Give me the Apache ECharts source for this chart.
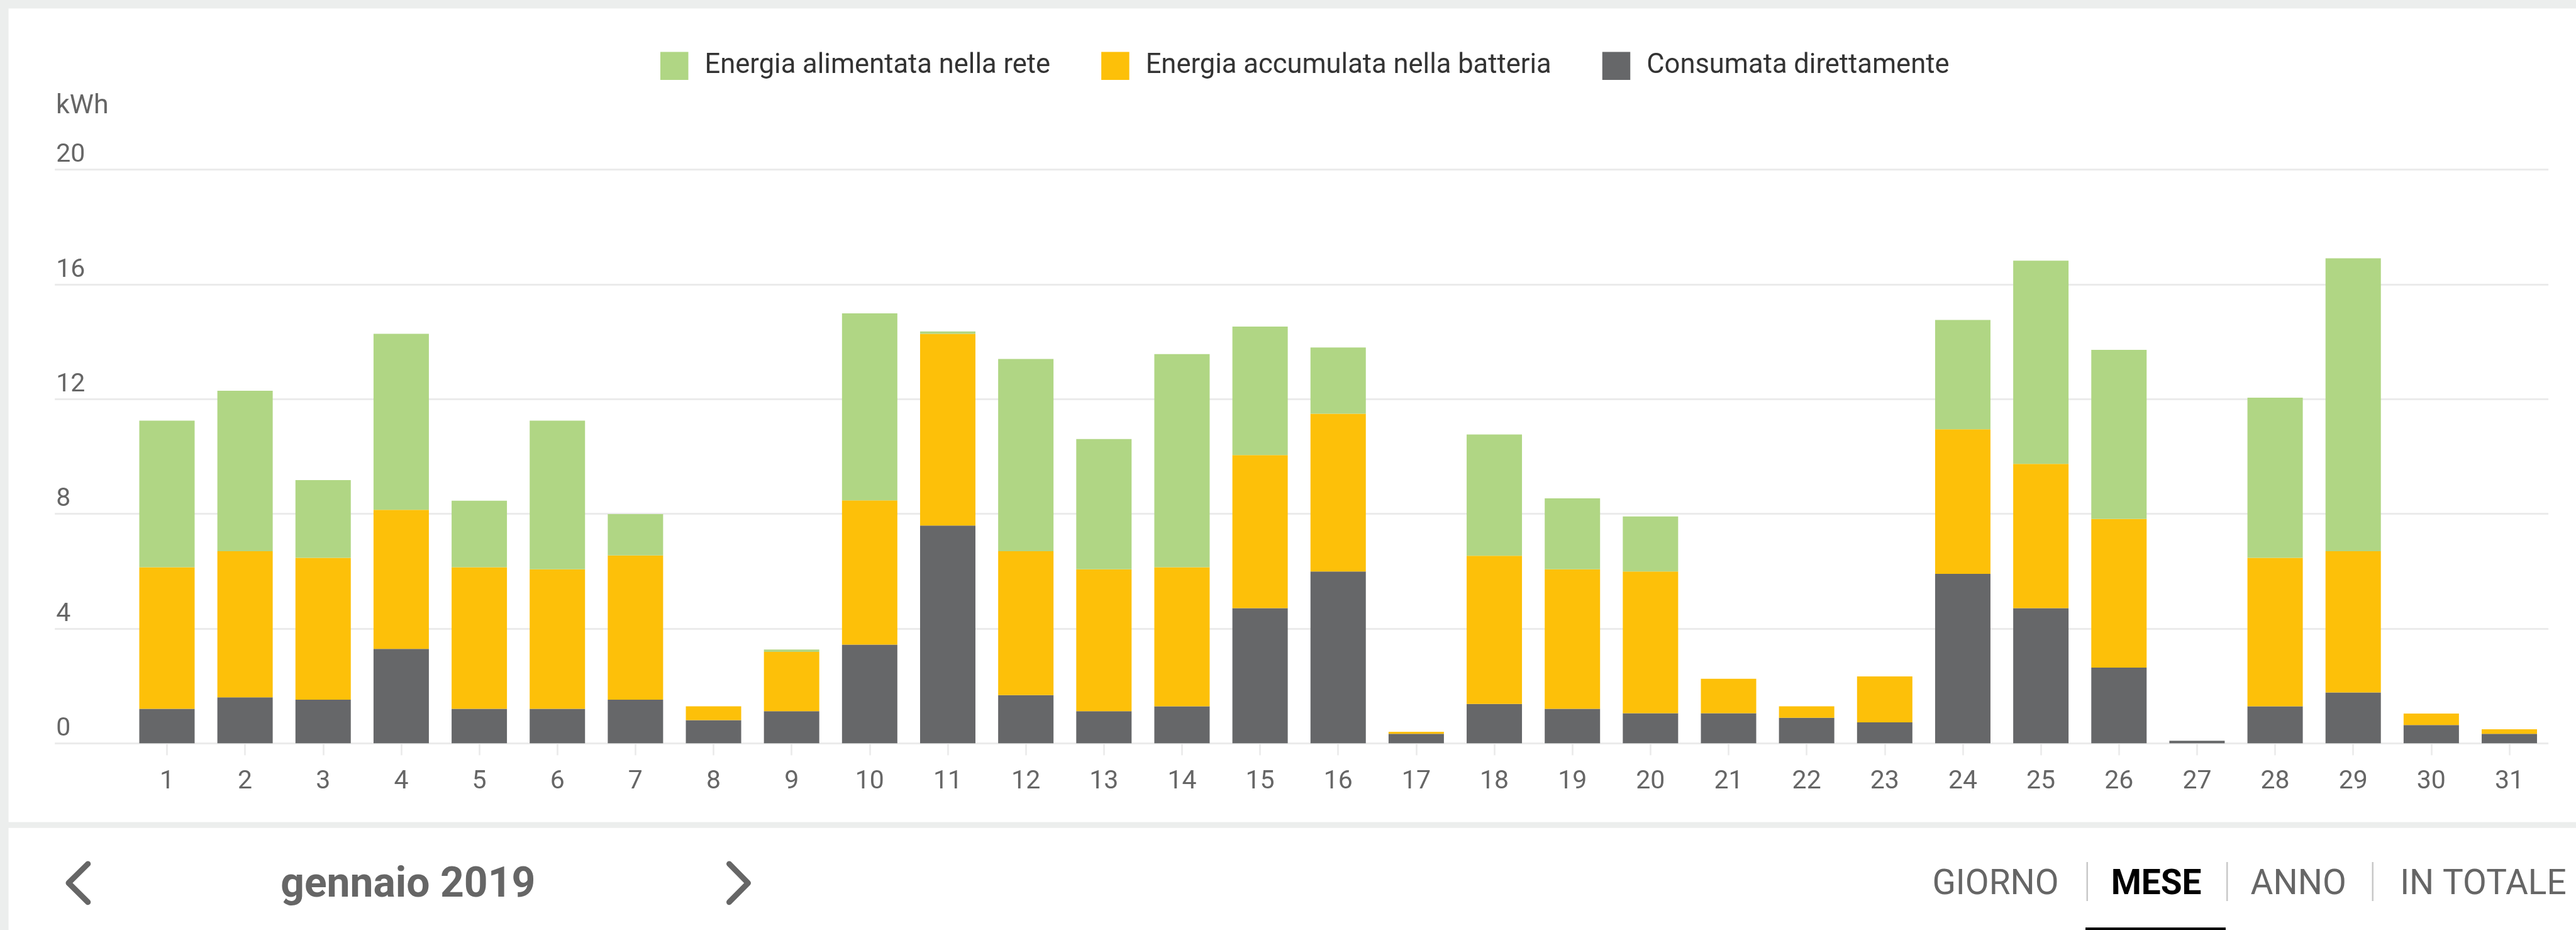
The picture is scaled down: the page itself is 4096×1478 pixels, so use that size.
<!doctype html>
<html>
<head>
<meta charset="UTF-8">
<title>Energia gennaio 2019</title>
<style>
  html, body { margin: 0; padding: 0; background: #eceeed; }
  #chart { width: 4096px; height: 1478px; }
</style>
</head>
<body>
<div id="chart"></div>
<script src="https://cdn.jsdelivr.net/npm/echarts@6/dist/echarts.min.js"></script>
<script>
// dati del mese (kWh)
var giorni = ['1','2','3','4','5','6','7','8','9','10','11','12','13','14','15','16','17','18','19','20','21','22','23','24','25','26','27','28','29','30','31'];
var consumata = [1.20,1.60,1.52,3.29,1.20,1.20,1.52,0.81,1.12,3.44,7.59,1.68,1.12,1.29,4.71,5.99,0.33,1.37,1.20,1.05,1.05,0.89,0.73,5.91,4.71,2.64,0.09,1.29,1.77,0.64,0.33];
var batteria = [4.94,5.10,4.95,4.85,4.94,4.87,5.03,0.48,2.07,5.03,6.69,5.02,4.95,4.85,5.34,5.50,0.07,5.17,4.87,4.94,1.20,0.40,1.60,5.04,5.03,5.18,0,5.18,4.93,0.40,0.16];
var rete = [5.11,5.59,2.71,6.14,2.32,5.18,1.44,0,0.08,6.52,0.08,6.70,4.54,7.43,4.48,2.31,0,4.23,2.47,1.92,0,0,0,3.81,7.09,5.90,0,5.58,10.21,0,0];

var nomi = ['Energia alimentata nella rete', 'Energia accumulata nella batteria', 'Consumata direttamente'];
var colori = ['#b0d684', '#fdc009', '#666769'];
var yMin = 0, yMax = 20, yStep = 4;
var unita = 'kWh';
var periodo = 'gennaio 2019';
var schede = ['GIORNO', 'MESE', 'ANNO', 'IN TOTALE'];

var chart = echarts.init(document.getElementById('chart'), null, { renderer: 'canvas' });
var font = 'Roboto, "Noto Sans", sans-serif';

var option = {
  backgroundColor: '#eceeed',
  animation: false,
  textStyle: { fontFamily: font },
  legend: {
    data: nomi,
    left: 1050,
    top: 82.6,
    padding: 0,
    icon: 'rect',
    itemWidth: 44.5,
    itemHeight: 44.5,
    itemGap: 81,
    selectedMode: false,
    textStyle: { fontSize: 43.5, color: '#333', fontFamily: font, padding: [9, 0, 0, 21] }
  },
  grid: [
    { left: 87.2, right: 43.9, top: 269.7, bottom: 296.7 },
    { left: 203.4, right: 43.9, top: 269.7, bottom: 296.7 }
  ],
  xAxis: [
    { gridIndex: 0, type: 'value', min: 0, max: 1, show: false },
    {
      gridIndex: 1,
      type: 'category',
      data: giorni,
      axisLine: { show: false },
      axisTick: { show: true, alignWithLabel: true, length: 19, lineStyle: { color: '#ebebeb', width: 2.7 } },
      axisLabel: { fontSize: 41, lineHeight: 41, color: '#666', margin: 41, fontFamily: font }
    }
  ],
  yAxis: [
    {
      gridIndex: 0,
      type: 'value',
      min: yMin,
      max: yMax,
      interval: yStep,
      axisLine: { show: false },
      axisTick: { show: false },
      splitLine: { show: true, lineStyle: { color: '#ebebeb', width: 3 } },
      axisLabel: {
        inside: true,
        margin: 2,
        fontSize: 41,
        lineHeight: 41,
        color: '#666',
        align: 'left',
        verticalAlign: 'bottom',
        padding: [0, 0, 2, 0],
        fontFamily: font
      }
    },
    { gridIndex: 1, type: 'value', min: yMin, max: yMax, interval: yStep, show: false }
  ],
  series: [
    { name: nomi[2], type: 'bar', stack: 'tot', xAxisIndex: 1, yAxisIndex: 1, barWidth: 88, data: consumata, itemStyle: { color: colori[2] } },
    { name: nomi[1], type: 'bar', stack: 'tot', xAxisIndex: 1, yAxisIndex: 1, barWidth: 88, data: batteria, itemStyle: { color: colori[1] } },
    { name: nomi[0], type: 'bar', stack: 'tot', xAxisIndex: 1, yAxisIndex: 1, barWidth: 88, data: rete, itemStyle: { color: colori[0] } }
  ],
  graphic: [
    // pannelli bianchi
    { type: 'rect', z: -10, shape: { x: 13.6, y: 13.6, width: 4083, height: 1293 }, style: { fill: '#fff' } },
    { type: 'rect', z: -10, shape: { x: 13.6, y: 1315.7, width: 4083, height: 163 }, style: { fill: '#fff' } },
    // unita
    { type: 'text', x: 89, y: 169.5, style: { text: unita, fontSize: 43, fontFamily: font, fill: '#666', verticalAlign: 'middle' } },
    // navigazione
    { type: 'polyline', shape: { points: [[139.8, 1372.9], [109, 1403.3], [139.8, 1433.7]] }, style: { stroke: '#666', lineWidth: 9, fill: null, lineCap: 'round', lineJoin: 'round' } },
    { type: 'polyline', shape: { points: [[1159.5, 1372.9], [1189.5, 1403.3], [1159.5, 1433.7]] }, style: { stroke: '#666', lineWidth: 9, fill: null, lineCap: 'round', lineJoin: 'round' } },
    { type: 'text', x: 648.8, y: 1408, style: { text: periodo, fontSize: 66, fontWeight: 'bold', fontFamily: font, fill: '#666', align: 'center', verticalAlign: 'middle' } },
    { type: 'text', x: 3173, y: 1407.5, style: { text: schede[0], fontSize: 55, fontFamily: font, fill: '#666', align: 'center', verticalAlign: 'middle' } },
    { type: 'text', x: 3428.6, y: 1407.5, style: { text: schede[1], fontSize: 55, fontWeight: 'bold', fontFamily: font, fill: '#000', align: 'center', verticalAlign: 'middle' } },
    { type: 'text', x: 3654.7, y: 1407.5, style: { text: schede[2], fontSize: 55, fontFamily: font, fill: '#666', align: 'center', verticalAlign: 'middle' } },
    { type: 'text', x: 3948.4, y: 1407.5, style: { text: schede[3], fontSize: 55, fontFamily: font, fill: '#666', align: 'center', verticalAlign: 'middle' } },
    { type: 'rect', shape: { x: 3317.5, y: 1370, width: 2.5, height: 62 }, style: { fill: '#c8c8c8' } },
    { type: 'rect', shape: { x: 3540, y: 1370, width: 2.5, height: 62 }, style: { fill: '#c8c8c8' } },
    { type: 'rect', shape: { x: 3771.5, y: 1370, width: 2.5, height: 62 }, style: { fill: '#c8c8c8' } },
    { type: 'rect', shape: { x: 3316, y: 1474, width: 223, height: 4 }, style: { fill: '#000' } }
  ]
};

chart.setOption(option);
</script>
</body>
</html>
